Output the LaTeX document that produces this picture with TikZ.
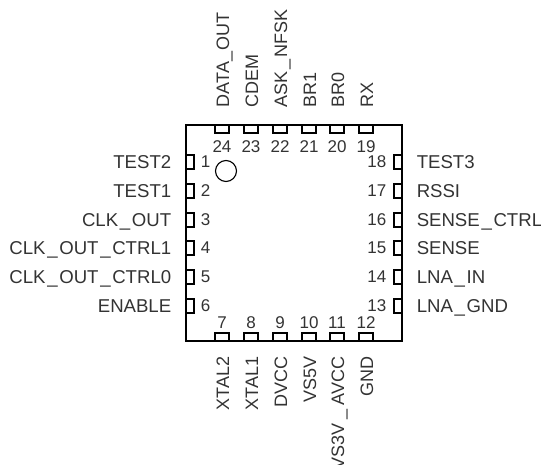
\documentclass[tikz,border=0pt]{standalone}
\usepackage{fontspec}
\setmainfont{Liberation Sans}
\usetikzlibrary{positioning}
\newcommand{\pinus}[1][1.7pt]{\kern#1\_\kern#1}
\tikzset{
  hpad/.style={draw, line width=1.1pt, minimum width=14pt, minimum height=8pt, inner sep=0pt},
  vpad/.style={draw, line width=1.1pt, minimum width=8pt, minimum height=14pt, inner sep=0pt},
  pinno/.style={font=\fontsize{17}{19}\selectfont, text=black!80, inner sep=0pt},
  pinname/.style={font=\fontsize{18.6}{21}\selectfont, text=black!80, inner sep=0pt},
  pinvert/.style={font=\fontsize{18}{21}\selectfont, text=black!80, inner sep=0pt, rotate=90},
}
\begin{document}
\begin{tikzpicture}[x=1pt,y=-1pt,node distance=8pt]
  \useasboundingbox (0,0) rectangle (541,465);
  % package outline
  \node[draw, line width=1.6pt, minimum width=216pt, minimum height=216pt, inner sep=0pt] (chip) at (294,233) {};
  \node[draw, circle, line width=1.1pt, minimum size=21pt, inner sep=0pt] (dot) at (226,171) {};

  % left side
  \foreach \n/\y/\name in {1/162/TEST2, 2/191/TEST1, 3/220/CLK\pinus OUT, 4/248/CLK\pinus OUT\pinus CTRL1, 5/277/CLK\pinus OUT\pinus CTRL0, 6/306/ENABLE} {
    \node[vpad] (pad\n) at (190,\y) {};
    \node[pinno, right=6pt of pad\n] (no\n) {\n};
    \node[pinname, anchor=base east] (name\n) at ([xshift=-14pt,yshift=-6.5pt]pad\n.west) {\name};
  }
  % right side
  \foreach \n/\y/\name in {13/306/LNA\pinus GND, 14/277/LNA\pinus IN, 15/248/SENSE, 16/220/SENSE\pinus CTRL, 17/191/RSSI, 18/162/TEST3} {
    \node[vpad] (pad\n) at (398,\y) {};
    \node[pinno, left=7pt of pad\n] (no\n) {\n};
    \node[pinname, anchor=base west] (name\n) at ([xshift=14pt,yshift=-6.5pt]pad\n.east) {\name};
  }
  % top side
  \foreach \n/\x/\name in {24/222/DATA\pinus[0.5pt]OUT, 23/251/CDEM, 22/280/ASK\pinus NFSK, 21/309/BR1, 20/337/BR0, 19/366/RX} {
    \node[hpad] (pad\n) at (\x,129) {};
    \node[pinno, below=7pt of pad\n] (no\n) {\n};
    \node[pinvert, anchor=base west] (name\n) at ([xshift=7pt,yshift=17pt]pad\n.north) {\name};
  }
  % bottom side
  \foreach \n/\x/\name in {7/222/XTAL2, 8/251/XTAL1, 9/280/DVCC, 10/309/VS5V, 11/337/VS3V\pinus[4pt]AVCC, 12/366/GND} {
    \node[hpad] (pad\n) at (\x,337) {};
    \node[pinno, above=4pt of pad\n] (no\n) {\n};
    \node[pinvert, anchor=base east] (name\n) at ([xshift=7pt,yshift=-15pt]pad\n.south) {\name};
  }
\end{tikzpicture}
\end{document}
